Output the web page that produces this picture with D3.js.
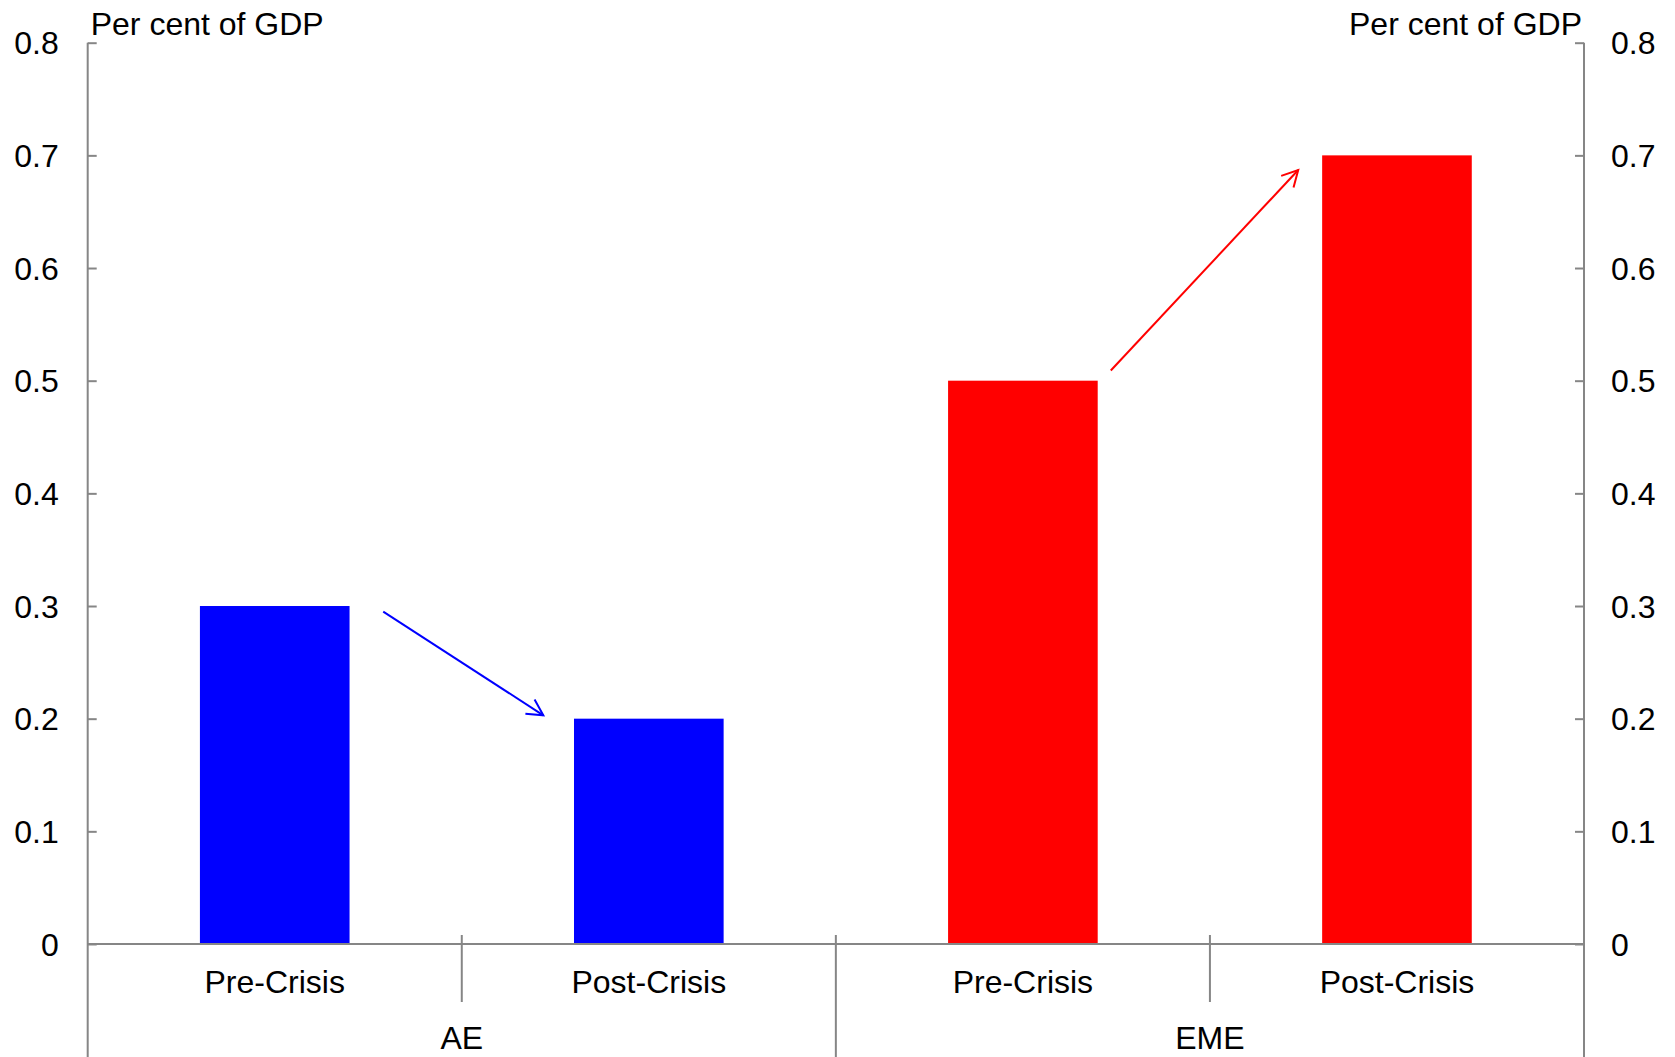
<!DOCTYPE html>
<html lang="en">
<head>
<meta charset="UTF-8">
<title>Per cent of GDP</title>
<script src="https://cdn.jsdelivr.net/npm/d3@7"></script>
<style>
  body{ margin:0; background:#fff; }
  svg{ display:block; font-family:"Liberation Sans", Arial, sans-serif; }
  .lbl{ font-size:32px; fill:#000; }
</style>
</head>
<body>
<div id="root"></div>
<script>
    // data
    let groups = ["AE", "EME"]
    let periods = ["Pre-Crisis", "Post-Crisis"]
    let values = [0.3, 0.2, 0.5, 0.7]
    let colors = ["#0000ff", "#0000ff", "#ff0000", "#ff0000"]
    let yTicks = [0, 0.1, 0.2, 0.3, 0.4, 0.5, 0.6, 0.7, 0.8]
    let unitLabel = "Per cent of GDP"
    // arrows in [category position, value] space
    let arrowStarts = [[0.79, 0.295], [2.735, 0.509]]
    let arrowEnds = [[1.218, 0.203], [3.236, 0.687]]
    let arrowColors = ["#0000ff", "#ff0000"]

    let width = 1675, height = 1057
    let mLeft = 87.7, mRight = 1584, mTop = 42.7, mBottom = 944
    let axisColor = "#868686"

    let svg = d3.select("#root").append("svg").attr("width", width).attr("height", height)

    let cats = []
    groups.forEach(g => periods.forEach(p => cats.push(g + "|" + p)))

    let x = d3.scaleBand().domain(cats).range([mLeft, mRight])
    let xPos = d3.scaleLinear().domain([0, cats.length]).range([mLeft, mRight])
    let y = d3.scaleLinear().domain([0, 0.8]).range([mBottom, mTop])

    // bars
    let barW = x.bandwidth() * 0.4
    svg.append("g").selectAll("rect").data(values).enter().append("rect")
        .attr("x", (d, i) => x(cats[i]) + (x.bandwidth() - barW) / 2)
        .attr("y", d => y(d))
        .attr("width", barW)
        .attr("height", d => y(0) - y(d))
        .attr("fill", (d, i) => colors[i])

    let fmt = d => d === 0 ? "0" : d3.format(".1f")(d)

    // left axis
    let yLeft = d3.axisLeft(y).tickValues(yTicks).tickSize(-9).tickPadding(29).tickFormat(fmt)
    let gl = svg.append("g").attr("transform", "translate(" + mLeft + ",0)").call(yLeft)
    gl.attr("font-size", null).attr("font-family", null)
    gl.select(".domain").remove()
    gl.selectAll("line").attr("stroke", axisColor).attr("stroke-width", 2)
    gl.selectAll("text").attr("class", "lbl").attr("dy", "0.35em")

    // right axis
    let yRight = d3.axisRight(y).tickValues(yTicks).tickSize(-9).tickPadding(27).tickFormat(fmt)
    let gr = svg.append("g").attr("transform", "translate(" + mRight + ",0)").call(yRight)
    gr.attr("font-size", null).attr("font-family", null)
    gr.select(".domain").remove()
    gr.selectAll("line").attr("stroke", axisColor).attr("stroke-width", 2)
    gr.selectAll("text").attr("class", "lbl").attr("dy", "0.35em")

    // vertical axis lines, running to the bottom
    svg.append("line").attr("x1", mLeft).attr("x2", mLeft).attr("y1", mTop).attr("y2", height)
        .attr("stroke", axisColor).attr("stroke-width", 2)
    svg.append("line").attr("x1", mRight).attr("x2", mRight).attr("y1", mTop).attr("y2", height)
        .attr("stroke", axisColor).attr("stroke-width", 2)

    // x axis line
    svg.append("line").attr("x1", mLeft).attr("x2", mRight).attr("y1", y(0)).attr("y2", y(0))
        .attr("stroke", axisColor).attr("stroke-width", 2)

    // separators: between periods (short), between groups (long)
    d3.range(1, cats.length).forEach(i => {
        let isGroup = i % periods.length === 0
        svg.append("line")
            .attr("x1", xPos(i)).attr("x2", xPos(i))
            .attr("y1", y(0) - 9).attr("y2", isGroup ? height : y(0) + 58)
            .attr("stroke", axisColor).attr("stroke-width", 2)
    })

    // category labels
    svg.append("g").selectAll("text").data(cats).enter().append("text")
        .attr("class", "lbl")
        .attr("x", d => x(d) + x.bandwidth() / 2)
        .attr("y", 993)
        .attr("text-anchor", "middle")
        .text(d => d.split("|")[1])

    // group labels
    svg.append("g").selectAll("text").data(groups).enter().append("text")
        .attr("class", "lbl")
        .attr("x", (d, i) => xPos(i * periods.length + periods.length / 2))
        .attr("y", 1049)
        .attr("text-anchor", "middle")
        .text(d => d)

    // unit labels
    svg.append("text").attr("class", "lbl").attr("x", mLeft + 3).attr("y", 35).text(unitLabel)
    svg.append("text").attr("class", "lbl").attr("x", mRight - 2).attr("y", 35)
        .attr("text-anchor", "end").text(unitLabel)

    // arrows
    arrowStarts.forEach((s, i) => {
        let x1 = xPos(s[0]), y1 = y(s[1])
        let x2 = xPos(arrowEnds[i][0]), y2 = y(arrowEnds[i][1])
        let ang = Math.atan2(y2 - y1, x2 - x1)
        let len = 18, half = 28 * Math.PI / 180
        let a = svg.append("g").attr("stroke", arrowColors[i]).attr("stroke-width", 2).attr("fill", "none")
        a.append("line").attr("x1", x1).attr("y1", y1).attr("x2", x2).attr("y2", y2)
        a.append("path").attr("d",
            "M" + (x2 - len * Math.cos(ang - half)) + "," + (y2 - len * Math.sin(ang - half)) +
            "L" + x2 + "," + y2 +
            "L" + (x2 - len * Math.cos(ang + half)) + "," + (y2 - len * Math.sin(ang + half)))
    })
</script>
</body>
</html>
